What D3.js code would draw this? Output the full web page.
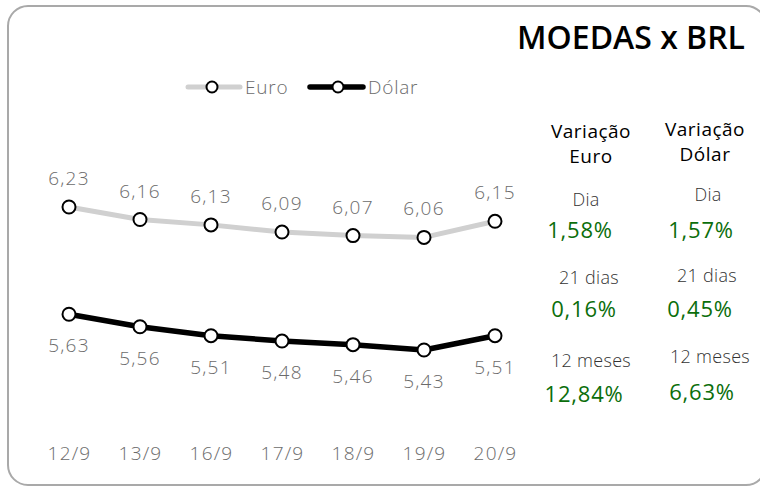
<!DOCTYPE html>
<html>
<head>
<meta charset="utf-8">
<script src="https://cdn.jsdelivr.net/npm/d3@7"></script>
<style>
  html, body { margin: 0; padding: 0; background: #fff; }
  svg { display: block; font-family: "Open Sans", "Noto Sans", sans-serif; }
</style>
</head>
<body>
<svg id="chart" width="760" height="488"></svg>
<script>
// Cotações diárias (R$)
const dates = ["12/9", "13/9", "16/9", "17/9", "18/9", "19/9", "20/9"];
const euro = [6.23, 6.16, 6.13, 6.09, 6.07, 6.06, 6.15];
const dolar = [5.63, 5.56, 5.51, 5.48, 5.46, 5.43, 5.51];

// Variações (%)
const periods = ["Dia", "21 dias", "12 meses"];
const varEuro = [1.58, 0.16, 12.84];
const varDolar = [1.57, 0.45, 6.63];

const fmt = v => v.toFixed(2).replace(".", ",");
const svg = d3.select("#chart");
const GRAY = "#6b6b6b";

// moldura arredondada
svg.append("rect")
  .attr("x", 8).attr("y", 6).attr("width", 758).attr("height", 479)
  .attr("rx", 20).attr("ry", 20)
  .attr("fill", "#fff").attr("stroke", "#a9a9a9").attr("stroke-width", 2);

svg.append("text")
  .attr("x", 745).attr("y", 49)
  .attr("text-anchor", "end")
  .attr("font-size", 32).attr("font-weight", 600).attr("fill", "#000")
  .text("MOEDAS x BRL");

const x = d3.scalePoint().domain(dates).range([69, 495]);
const y = d3.scaleLinear().domain([5.43, 6.23]).range([350, 207]);

const series = [
  { name: "Euro", values: euro, color: "#d0d0d0", width: 5, above: true },
  { name: "Dólar", values: dolar, color: "#000", width: 5.5, above: false }
];

const line = d3.line().x(d => x(d.date)).y(d => y(d.v));

series.forEach(s => {
  const pts = s.values.map((v, i) => ({ date: dates[i], v }));
  svg.append("path").datum(pts)
    .attr("d", line).attr("fill", "none")
    .attr("stroke", s.color).attr("stroke-width", s.width)
    .attr("stroke-linejoin", "round");
  svg.selectAll(null).data(pts).enter().append("circle")
    .attr("cx", d => x(d.date)).attr("cy", d => y(d.v)).attr("r", 6.5)
    .attr("fill", "#fff").attr("stroke", "#000").attr("stroke-width", 2);
  svg.selectAll(null).data(pts).enter().append("text")
    .attr("x", d => x(d.date))
    .attr("y", d => y(d.v) + (s.above ? -22 : 38))
    .attr("text-anchor", "middle")
    .attr("font-size", 19).attr("font-weight", 300)
    .attr("letter-spacing", 1.2).attr("fill", GRAY)
    .text(d => fmt(d.v));
});

// eixo x (apenas rótulos)
const xAxis = svg.append("g").attr("transform", "translate(0,460)")
  .call(d3.axisBottom(x).tickSize(0).tickPadding(0));
xAxis.select(".domain").remove();
xAxis.selectAll("text")
  .attr("font-size", 19).attr("font-weight", 300)
  .attr("letter-spacing", 1.2).attr("fill", GRAY)
  .attr("font-family", "'Open Sans', sans-serif")
  .attr("dy", "0");

// legenda
const legend = [
  { name: "Euro", color: "#d0d0d0", x0: 186, len: 56, cx: 26, w: 5 },
  { name: "Dólar", color: "#000", x0: 308, len: 57, cx: 30, w: 5.5 }
];
legend.forEach(l => {
  const g = svg.append("g").attr("transform", `translate(${l.x0},87)`);
  g.append("line").attr("x1", 2).attr("x2", l.len - 2).attr("y1", 0).attr("y2", 0)
    .attr("stroke", l.color).attr("stroke-width", l.w).attr("stroke-linecap", "round");
  g.append("circle").attr("cx", l.cx).attr("cy", 0).attr("r", 5.5)
    .attr("fill", "#fff").attr("stroke", "#000").attr("stroke-width", 2);
  g.append("text").attr("x", l.len + 3).attr("y", 7)
    .attr("font-size", 19).attr("font-weight", 300)
    .attr("letter-spacing", 0.8).attr("fill", GRAY).text(l.name);
});

// painel de variações
const panel = [
  { title: ["Variação", "Euro"], values: varEuro, tx: 591, ty: [138, 163],
    lx: [586, 589, 591], ly: [206, 284, 367], vx: [580, 584, 584], vy: [238, 317, 402] },
  { title: ["Variação", "Dólar"], values: varDolar, tx: 705, ty: [136, 161],
    lx: [708, 707, 710], ly: [201, 282, 363], vx: [701, 700, 702], vy: [238, 317, 400] }
];
panel.forEach(c => {
  c.title.forEach((t, i) => {
    svg.append("text").attr("x", c.tx).attr("y", c.ty[i])
      .attr("text-anchor", "middle").attr("font-size", 19)
      .attr("letter-spacing", 0.5).attr("fill", "#000")
      .text(t);
  });
  periods.forEach((p, i) => {
    svg.append("text").attr("x", c.lx[i]).attr("y", c.ly[i])
      .attr("text-anchor", "middle").attr("font-size", 18).attr("font-weight", 300)
      .attr("letter-spacing", 0.3).attr("fill", "#333")
      .text(p);
    svg.append("text").attr("x", c.vx[i]).attr("y", c.vy[i])
      .attr("text-anchor", "middle").attr("font-size", 22).attr("font-weight", 500)
      .attr("letter-spacing", 0.8).attr("fill", "#0b6e0b")
      .text(fmt(c.values[i]) + "%");
  });
});
</script>
</body>
</html>
